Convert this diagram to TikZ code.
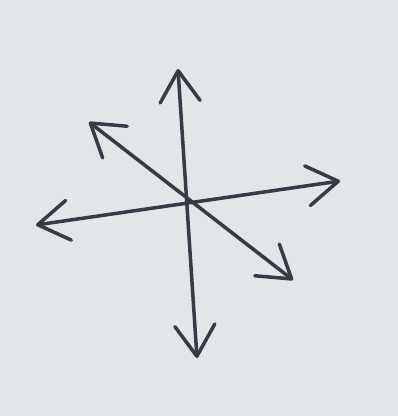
\documentclass[tikz,border=0pt]{standalone}
\usepackage{xcolor}
\usetikzlibrary{arrows.meta}

\definecolor{paper}{RGB}{226,229,234}
\definecolor{pencil}{RGB}{58,58,66}

\begin{document}
\begin{tikzpicture}[x=1pt,y=-1pt,
  sketch/.style={pencil,line width=3.5pt,line cap=round,line join=round,
    {Straight Barb[round,length=31pt,width=40pt]}-{Straight Barb[round,length=31pt,width=40pt]}}]
\fill[paper] (0,0) rectangle (398,416);
\useasboundingbox (0,0) rectangle (398,416);

\coordinate (up) at (178,69);
\coordinate (down) at (197,358);
\coordinate (left) at (36,225);
\coordinate (right) at (340,181);
\coordinate (upleft) at (89,122);
\coordinate (downright) at (293,280);

\draw[sketch] (down) -- (up);
\draw[sketch] (left) -- (right);
\draw[sketch] (upleft) -- (downright);
\end{tikzpicture}
\end{document}
